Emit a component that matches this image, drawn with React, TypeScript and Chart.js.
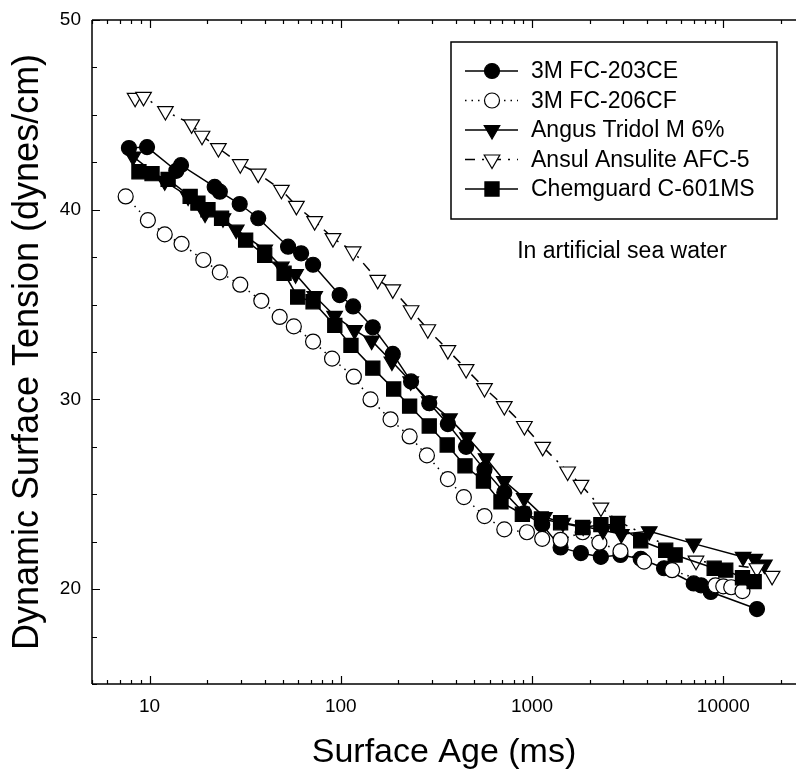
import React, { useEffect, useRef } from "react";
import { Chart, registerables } from "chart.js";

Chart.register(...registerables);

// ---------- Data ----------
const seriesNames = [
  "3M FC-203CE",
  "3M FC-206CF",
  "Angus Tridol M 6%",
  "Ansul Ansulite AFC-5",
  "Chemguard C-601MS",
];

const fc203Age = [7.8, 9.7, 13.8, 14.6, 21.9, 23.3, 29.6, 37, 53, 62, 71.6, 98.6, 116, 147, 187, 233, 290, 363, 452, 564, 716, 910, 1130, 1410, 1800, 2290, 2900, 3700, 4900, 7000, 7650, 8600, 15000];
const fc203Tension = [43.25, 43.3, 42.05, 42.35, 41.2, 40.95, 40.3, 39.55, 38.05, 37.7, 37.1, 35.5, 34.9, 33.8, 32.4, 30.95, 29.8, 28.7, 27.5, 26.3, 25.1, 24.0, 23.4, 22.2, 21.9, 21.7, 21.8, 21.6, 21.1, 20.3, 20.2, 19.85, 18.95];

const fc206Age = [7.5, 9.8, 12.0, 14.7, 19.1, 23.3, 29.8, 38.4, 47.9, 56.8, 71.6, 90, 117, 143, 182, 229, 282, 363, 440, 564, 716, 940, 1130, 1410, 1840, 2250, 2900, 3850, 5400, 9100, 10000, 11000, 12600];
const fc206Tension = [40.7, 39.45, 38.7, 38.2, 37.35, 36.7, 36.05, 35.2, 34.35, 33.85, 33.05, 32.15, 31.2, 30.0, 28.95, 28.05, 27.05, 25.8, 24.85, 23.85, 23.15, 23.0, 22.65, 22.6, 23.0, 22.45, 22.0, 21.45, 21.0, 20.2, 20.15, 20.1, 19.9];

const angusAge = [8.2, 12.0, 15.9, 19.5, 24.2, 28.4, 40, 48.9, 58, 73, 92.8, 118, 145, 185, 232, 290, 370, 460, 575, 716, 910, 1160, 1450, 1850, 2350, 2930, 4100, 7000, 12700, 14600, 16400];
const angusTension = [42.8, 41.5, 40.7, 39.8, 39.55, 38.95, 37.9, 37.0, 36.6, 35.45, 34.4, 33.65, 33.1, 32.0, 30.95, 29.9, 29.0, 28.0, 26.9, 25.7, 24.8, 23.8, 23.5, 23.3, 23.1, 22.9, 23.05, 22.4, 21.7, 21.6, 21.3];

const ansulAge = [8.4, 9.3, 12.1, 16.6, 18.8, 22.9, 29.8, 37, 48.9, 58.6, 73, 91, 116, 156, 187, 233, 285, 363, 452, 564, 716, 912, 1137, 1535, 1803, 2291, 2800, 7200, 15000, 18000];
const ansulTension = [45.9, 45.95, 45.2, 44.5, 43.9, 43.25, 42.4, 41.9, 41.05, 40.2, 39.4, 38.5, 37.8, 36.3, 35.8, 34.7, 33.7, 32.6, 31.6, 30.6, 29.65, 28.6, 27.5, 26.2, 25.5, 24.3, 23.6, 21.5, 21.1, 20.7];

const chemAge = [8.8, 10.3, 12.5, 16.3, 17.9, 20.2, 23.8, 31.8, 40, 50.5, 59.5, 71.6, 93, 113, 147, 189, 229, 290, 360, 446, 557, 688, 890, 1120, 1410, 1840, 2290, 2800, 3700, 5000, 5600, 8960, 10300, 12600, 14500];
const chemTension = [42.0, 41.9, 41.6, 40.7, 40.35, 40.0, 39.55, 38.4, 37.6, 36.65, 35.4, 35.15, 33.9, 32.85, 31.65, 30.55, 29.65, 28.6, 27.6, 26.5, 25.7, 24.6, 23.95, 23.7, 23.5, 23.25, 23.4, 23.4, 22.55, 22.05, 21.8, 21.1, 21.0, 20.6, 20.4];

const xTickLabels = [10, 100, 1000, 10000];
const yTickLabels = [20, 30, 40, 50];
const xTitle = "Surface Age (ms)";
const yTitle = "Dynamic Surface Tension (dynes/cm)";
const noteText = "In artificial sea water";

// ---------- Styling ----------
const FONT = "Arial, 'Liberation Sans', Helvetica, sans-serif";
const BLACK = "#000000";
const WHITE = "#ffffff";

type Style = {
  pointStyle: string;
  radius: number;
  rotation: number;
  filled: boolean;
  dash: number[];
};

const styles: Style[] = [
  { pointStyle: "circle", radius: 7.5, rotation: 0, filled: true, dash: [] },
  { pointStyle: "circle", radius: 7.5, rotation: 0, filled: false, dash: [1.5, 5] },
  { pointStyle: "triangle", radius: 9, rotation: 180, filled: true, dash: [] },
  { pointStyle: "triangle", radius: 9, rotation: 180, filled: false, dash: [10, 7, 2, 7] },
  { pointStyle: "rect", radius: 10, rotation: 0, filled: true, dash: [] },
];

const xs = [fc203Age, fc206Age, angusAge, ansulAge, chemAge];
const ys = [fc203Tension, fc206Tension, angusTension, ansulTension, chemTension];

function drawMarker(ctx: CanvasRenderingContext2D, s: Style, x: number, y: number) {
  ctx.save();
  ctx.setLineDash([]);
  ctx.lineWidth = 1.2;
  ctx.strokeStyle = BLACK;
  ctx.fillStyle = s.filled ? BLACK : WHITE;
  ctx.beginPath();
  const r = s.radius;
  if (s.pointStyle === "circle") {
    ctx.arc(x, y, r, 0, Math.PI * 2);
  } else if (s.pointStyle === "triangle") {
    let rad = (s.rotation * Math.PI) / 180;
    ctx.moveTo(x + Math.sin(rad) * r, y - Math.cos(rad) * r);
    rad += (2 * Math.PI) / 3;
    ctx.lineTo(x + Math.sin(rad) * r, y - Math.cos(rad) * r);
    rad += (2 * Math.PI) / 3;
    ctx.lineTo(x + Math.sin(rad) * r, y - Math.cos(rad) * r);
    ctx.closePath();
  } else {
    const h = Math.SQRT1_2 * r;
    ctx.rect(x - h, y - h, 2 * h, 2 * h);
  }
  ctx.fill();
  ctx.stroke();
  ctx.restore();
}

const framePlugin = {
  id: "framePlugin",
  afterDraw(chart: any) {
    const { ctx, chartArea } = chart;
    const xScale = chart.scales.x;
    const yScale = chart.scales.y;
    const { left, right, top, bottom } = chartArea;
    ctx.save();
    ctx.strokeStyle = BLACK;
    ctx.lineWidth = 1.5;
    ctx.setLineDash([]);
    // axis lines: left, bottom, top
    ctx.beginPath();
    ctx.moveTo(left, top);
    ctx.lineTo(left, bottom);
    ctx.moveTo(left, bottom);
    ctx.lineTo(right, bottom);
    ctx.moveTo(left, top);
    ctx.lineTo(right, top);
    ctx.stroke();

    // y ticks (inward)
    ctx.lineWidth = 1.2;
    ctx.beginPath();
    for (let v = yScale.min; v <= yScale.max + 1e-6; v += 2.5) {
      const py = Math.round(yScale.getPixelForValue(v)) + 0.5;
      const len = Math.abs(v % 10) < 1e-6 ? 8 : 5;
      ctx.moveTo(left, py);
      ctx.lineTo(left + len, py);
    }
    // x ticks (log, inward, top and bottom)
    for (let d = 0; d <= 5; d++) {
      for (let m = 1; m <= 9; m++) {
        const v = m * Math.pow(10, d);
        if (v < xScale.min || v > xScale.max) continue;
        const px = Math.round(xScale.getPixelForValue(v)) + 0.5;
        const len = m === 1 ? 8 : 4;
        ctx.moveTo(px, bottom);
        ctx.lineTo(px, bottom - len);
        ctx.moveTo(px, top);
        ctx.lineTo(px, top + len);
      }
    }
    ctx.stroke();

    // legend box
    const bx = left + 359;
    const by = top + 22;
    const bw = right - 19 - bx;
    const bh = 177;
    ctx.fillStyle = WHITE;
    ctx.fillRect(bx, by, bw, bh);
    ctx.lineWidth = 1.5;
    ctx.strokeRect(bx, by, bw, bh);
    ctx.font = `23px ${FONT}`;
    ctx.textBaseline = "middle";
    ctx.textAlign = "left";
    for (let i = 0; i < seriesNames.length; i++) {
      const ry = by + 29 + i * 29.5;
      const s = styles[i];
      ctx.save();
      ctx.lineWidth = 1.5;
      ctx.setLineDash(s.dash);
      ctx.beginPath();
      ctx.moveTo(bx + 14, ry);
      ctx.lineTo(bx + 67, ry);
      ctx.stroke();
      ctx.restore();
      drawMarker(ctx, s, bx + 41, ry);
      ctx.fillStyle = BLACK;
      ctx.fillText(seriesNames[i], bx + 80, ry + 1);
    }

    // annotation
    ctx.font = `23px ${FONT}`;
    ctx.textAlign = "center";
    ctx.fillStyle = BLACK;
    ctx.fillText(noteText, left + 530, top + 232);
    ctx.restore();
  },
};

export default function App() {
  const canvasRef = useRef<HTMLCanvasElement | null>(null);

  useEffect(() => {
    const canvas = canvasRef.current;
    if (!canvas) return;

    const datasets = seriesNames.map((name, i) => {
      const s = styles[i];
      return {
        label: name,
        data: xs[i].map((x, k) => ({ x, y: ys[i][k] })),
        borderColor: BLACK,
        backgroundColor: s.filled ? BLACK : WHITE,
        borderWidth: 1.5,
        borderDash: s.dash,
        pointStyle: s.pointStyle,
        pointRadius: s.radius,
        pointRotation: s.rotation,
        pointBackgroundColor: s.filled ? BLACK : WHITE,
        pointBorderColor: BLACK,
        pointBorderWidth: 1.2,
        pointHoverRadius: s.radius,
        tension: 0,
        fill: false,
        order: seriesNames.length - i,
      };
    });

    const chart = new Chart(canvas, {
      type: "line",
      data: { datasets },
      options: {
        animation: false,
        responsive: false,
        maintainAspectRatio: false,
        events: [],
        layout: { autoPadding: false, padding: { top: 20, right: 0, left: 0, bottom: 0 } },
        plugins: {
          legend: { display: false },
          tooltip: { enabled: false },
        },
        scales: {
          x: {
            type: "logarithmic",
            min: 5,
            max: 24000,
            grid: { display: false, drawTicks: false },
            border: { display: false },
            ticks: {
              autoSkip: false,
              maxRotation: 0,
              minRotation: 0,
              padding: 11,
              color: BLACK,
              font: { family: FONT, size: 19 },
              callback: (value: any) => (xTickLabels.includes(Number(value)) ? String(value) : ""),
            },
            title: {
              display: true,
              text: xTitle,
              color: BLACK,
              font: { family: FONT, size: 34 },
              padding: { top: 0, bottom: 0 },
            },
            afterFit: (scale: any) => {
              scale.height = 89;
              scale.paddingLeft = 0;
              scale.paddingRight = 0;
            },
          },
          y: {
            type: "linear",
            min: 15,
            max: 50,
            grid: { display: false, drawTicks: false },
            border: { display: false },
            ticks: {
              stepSize: 5,
              padding: 11,
              color: BLACK,
              font: { family: FONT, size: 19 },
              callback: (value: any) => (yTickLabels.includes(Number(value)) ? String(value) : ""),
            },
            title: {
              display: true,
              text: yTitle,
              color: BLACK,
              font: { family: FONT, size: 36 },
              padding: { top: 6, bottom: 0 },
            },
            afterFit: (scale: any) => {
              scale.width = 92;
              scale.paddingTop = 0;
              scale.paddingBottom = 0;
            },
          },
        },
      },
      plugins: [framePlugin],
    } as any);

    return () => {
      chart.destroy();
    };
  }, []);

  return (
    <div style={{ position: "absolute", left: 0, top: 0, width: 796, height: 773, background: WHITE }}>
      <canvas ref={canvasRef} width={796} height={773} style={{ display: "block" }} />
    </div>
  );
}
